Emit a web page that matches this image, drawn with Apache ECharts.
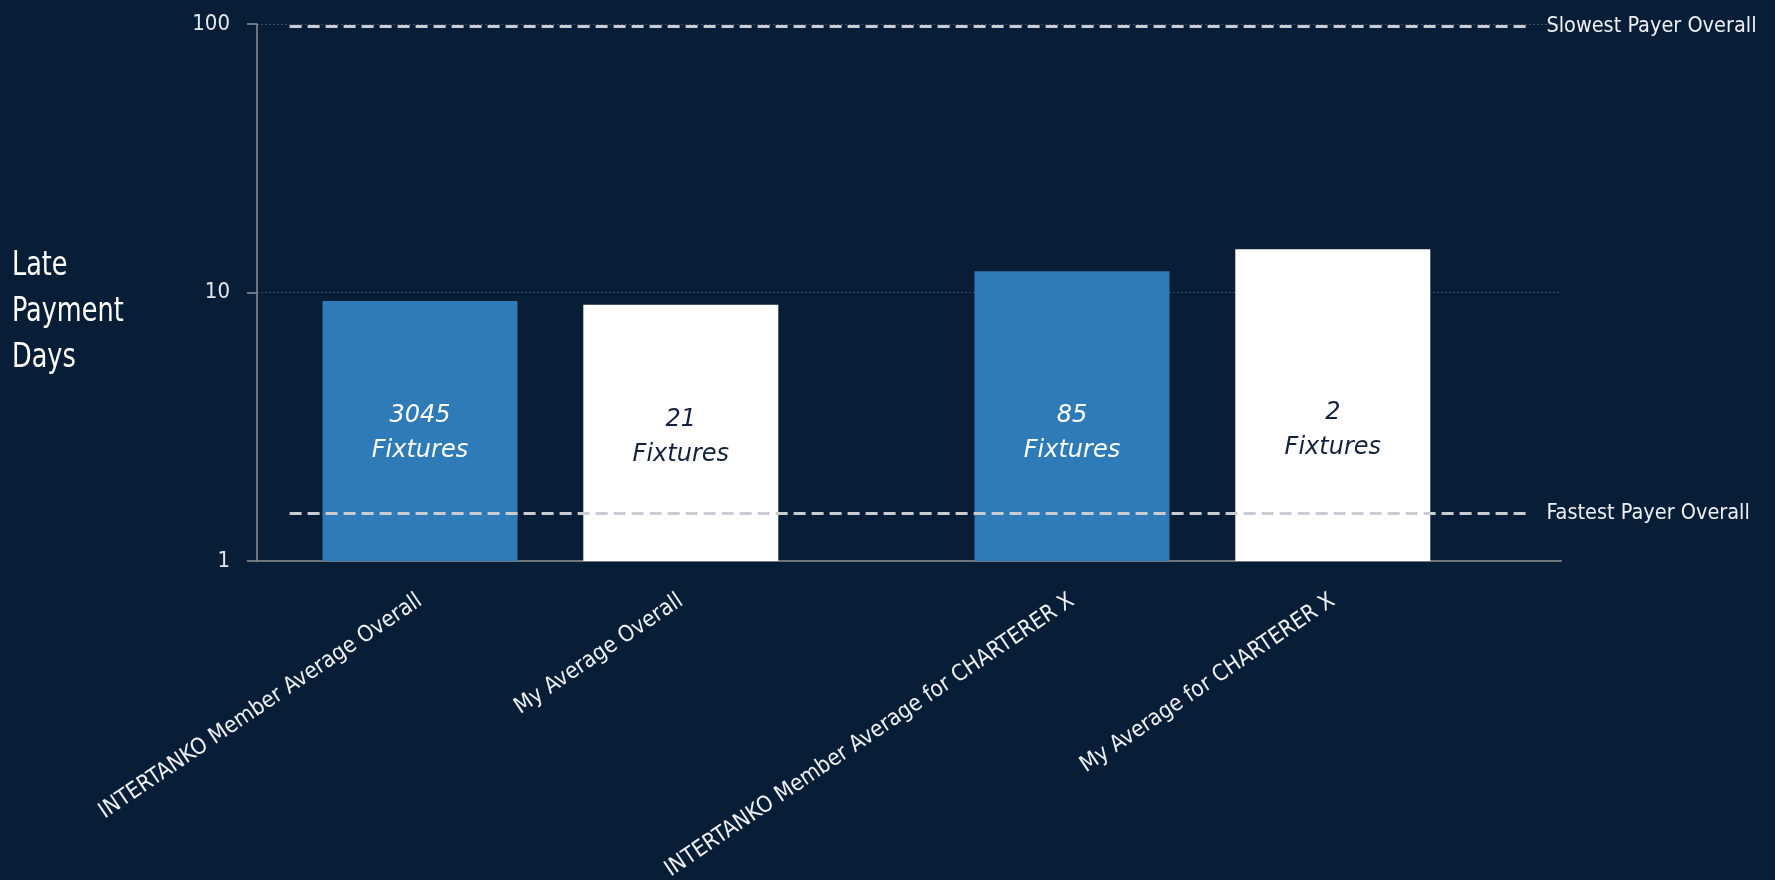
<!DOCTYPE html>
<html>
<head>
<meta charset="utf-8">
<script src="https://cdn.jsdelivr.net/npm/echarts@6/dist/echarts.min.js"></script>
<style>
  html, body { margin: 0; padding: 0; background: #081e36; }
  #chart { width: 1775px; height: 880px; }
</style>
</head>
<body>
<div id="chart"></div>
<script>
// ---- data ----
const categories = [
  'INTERTANKO Member Average Overall',
  'My Average Overall',
  'INTERTANKO Member Average for CHARTERER X',
  'My Average for CHARTERER X'
];
const lateDays = [9.3, 9.0, 12.0, 14.5];
const fixtures = [3045, 21, 85, 2];
const yTicks = [1, 10, 100];
const slowestPayer = 98;
const fastestPayer = 1.5;
const referenceNames = ['Slowest Payer Overall', 'Fastest Payer Overall'];

// ---- layout / style ----
// The category axis is cut into narrow slots so the two pairs of bars can
// be grouped with a wider gap between the pairs.
const SLOT_COUNT = 20;
const barSlots = [2, 6, 12, 16];
const barColors = ['#2f7bb8', '#ffffff', '#2f7bb8', '#ffffff'];
const barTextColors = ['#ffffff', '#13223a', '#ffffff', '#13223a'];
const barTextLift = [93, 89, 93, 96];

const NARROW = "'DejaVu Sans Condensed', 'DejaVu Sans', sans-serif";

const slotNames = Array.from({ length: SLOT_COUNT }, (_, i) => 's' + i);
const slotLabel = {};
barSlots.forEach((s, i) => { slotLabel[s] = categories[i]; });

const barData = lateDays.map((v, i) => ({
  value: [barSlots[i], v],
  itemStyle: { color: barColors[i] },
  label: { color: barTextColors[i], distance: barTextLift[i] }
}));

const refLine = (value, name) => [
  { coord: [0, value], name: name },
  { coord: [SLOT_COUNT - 1, value] }
];

const chart = echarts.init(document.getElementById('chart'), null, { renderer: 'canvas' });

chart.setOption({
  backgroundColor: '#081e36',
  animation: false,
  grid: { left: 257, right: 214, top: 24, bottom: 319, containLabel: false, outerBoundsMode: 'none' },
  graphic: [{
    type: 'text',
    left: 12,
    top: 243,
    scaleX: 0.86,
    style: {
      text: 'Late\nPayment\nDays',
      fill: '#ffffff',
      font: '33px ' + NARROW,
      lineHeight: 46
    }
  }],
  xAxis: {
    type: 'category',
    data: slotNames,
    axisLine: { show: true, lineStyle: { color: '#6f7881', width: 2 } },
    axisTick: { show: false },
    splitLine: { show: false },
    axisLabel: {
      interval: 0,
      rotate: 34,
      margin: 38,
      color: '#eef1f4',
      fontSize: 22.5,
      fontFamily: NARROW,
      formatter: (v, idx) => slotLabel[idx] || ''
    }
  },
  yAxis: {
    type: 'log',
    logBase: 10,
    min: yTicks[0],
    max: yTicks[yTicks.length - 1],
    axisLine: { show: true, lineStyle: { color: '#8c939b', width: 1.5 } },
    axisTick: { show: true, length: 10, lineStyle: { color: '#8c939b', width: 1.5 } },
    axisLabel: { color: '#e3e7ec', fontSize: 22, fontFamily: NARROW, margin: 27 },
    splitLine: { show: true, lineStyle: { color: '#3f4f61', width: 1, type: [2, 2] } },
    minorTick: { show: false }
  },
  series: [{
    type: 'bar',
    data: barData,
    barWidth: 195,
    label: {
      show: true,
      position: 'insideBottom',
      fontFamily: 'DejaVu Sans',
      fontStyle: 'italic',
      fontSize: 24,
      lineHeight: 35,
      formatter: p => fixtures[p.dataIndex] + '\nFixtures'
    },
    markLine: {
      silent: true,
      symbol: 'none',
      lineStyle: { color: '#c9cdd3', width: 3, type: [12, 6], cap: 'butt' },
      label: {
        show: true,
        position: 'end',
        distance: 18,
        color: '#eef1f4',
        fontSize: 21.5,
        fontFamily: NARROW,
        formatter: p => p.name
      },
      data: [
        refLine(slowestPayer, referenceNames[0]),
        refLine(fastestPayer, referenceNames[1])
      ]
    }
  }]
});
</script>
</body>
</html>
